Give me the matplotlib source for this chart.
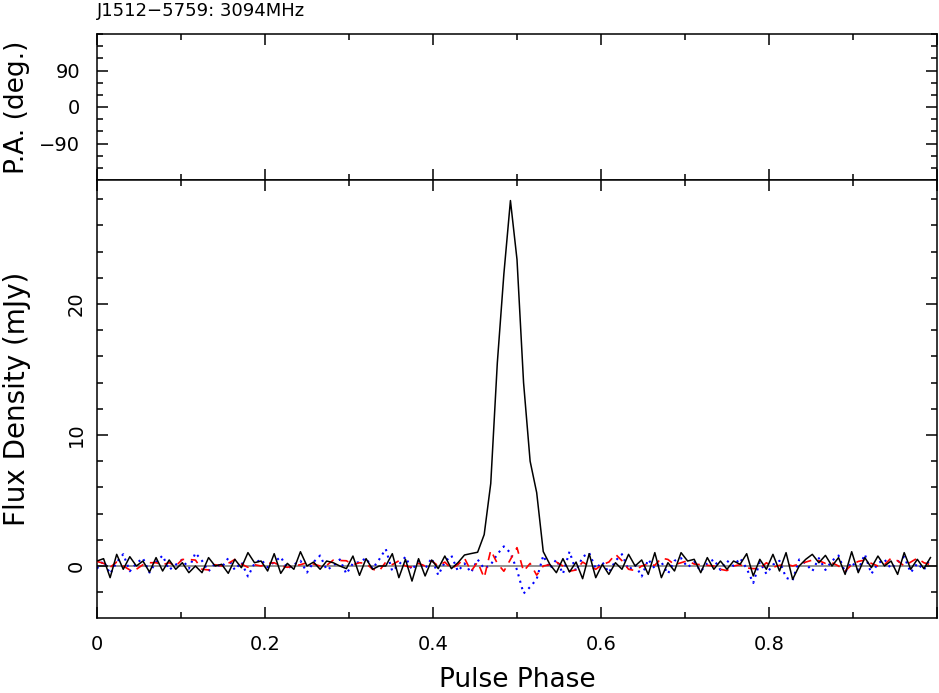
import numpy as np
import matplotlib
matplotlib.use("Agg")
import matplotlib.pyplot as plt
from matplotlib.ticker import MultipleLocator, FixedLocator, FuncFormatter

plt.rcParams['font.family'] = ['DejaVu Sans']

title = 'J1512\u22125759: 3094MHz'
nbin = 128

# total intensity (mJy), one value per bin
flux_I = [0.38, 0.56, -0.89, 0.89, -0.25, 0.71, 0.0, 0.38, -0.46, 0.64,
          -0.38, 0.46, -0.25, 0.25, -0.51, 0.0, -0.51, 0.64, 0.0, 0.13,
          -0.56, 0.51, -0.13, 1.02, 0.25, 0.38, -0.38, 0.94, -0.56, 0.2,
          -0.25, 1.09, 0.0, 0.3, -0.25, 0.38, 0.25, 0.0, -0.2, 0.76,
          -0.71, 0.56, -0.25, 0.0, 0.0, 0.94, -0.89, 0.51, -1.15, 0.56,
          -0.76, 0.46, -0.2, 0.76, -0.2, 0.25,
          0.84, 0.95, 1.05, 2.4, 6.3, 15.5, 22.3, 27.9, 23.4, 14.0, 8.0, 5.6, 1.1,
          0.13, -0.51, 0.56, -0.46, 0.3, -0.97, 0.94, -0.89, 0.13,
          -0.64, 0.25, -0.25, 0.89, 0.0, 0.46, -0.64, 1.02, -0.89, 0.25,
          -0.38, 1.02, 0.38, 0.51, -0.51, 0.64, -0.25, 0.38, -0.25, 0.38,
          0.13, 0.94, -0.76, 0.51, -0.25, 0.89, -0.38, 1.02, -1.02, 0.0,
          0.51, 0.89, 0.25, 0.81, 0.0, 0.64, -0.64, 1.09, -0.51, 0.64,
          -0.13, 0.76, 0.0, 0.38, -0.64, 1.02, -0.25, 0.51, -0.2, 0.64]

# linear polarisation
flux_L = [0.35, 0.2, -0.1, 0.3, 0.0, -0.3, -0.25, 0.1, 0.25, 0.25,
          0.1, 0.25, 0.0, 0.5, 0.5, 0.45, -0.25, -0.3, 0.1, 0.0,
          0.2, 0.5, 0.15, -0.1, 0.1, 0.0, 0.2, 0.25, 0.0, -0.1,
          0.0, 0.1, 0.25, 0.15, 0.0, 0.05, 0.45, 0.42, 0.4, 0.1,
          0.25, 0.2, -0.25, -0.38, 0.3, 0.1, 0.4, 0.0, -0.1, 0.2,
          0.0, 0.4, 0.0, 0.3, -0.2, 0.1,
          0.6, -0.4, 0.3, -0.9, 1.2, 0.2, -0.4, 0.5, 1.4, -0.4, 0.2, -0.7, 0.0,
          0.1, 0.3, 0.0, -0.4, -0.3, 0.3, 0.0, -0.25, 0.1, 0.3, 0.9,
          0.4, -0.25, -0.35, 0.0, 0.15, 0.05, 0.6, 0.5, 0.1, 0.25,
          0.4, 0.15, 0.1, 0.05, 0.0, -0.25, -0.35, 0.0, 0.1, -0.15,
          -0.2, -0.2, 0.25, -0.1, 0.05, 0.15, 0.0, 0.15, 0.3, 0.45,
          0.4, 0.2, 0.25, 0.0, -0.4, 0.1, 0.35, 0.45, 0.2, 0.0,
          0.1, 0.6, 0.4, 0.0, 0.3, 0.6, 0.25, 0.1]

# circular polarisation
flux_V = [-0.2, 0.4, -0.6, 0.3, 0.9, -0.4, 0.2, 0.6, -0.5, 0.3,
          0.8, -0.3, 0.1, 0.5, -0.2, 1.0, 0.4, -0.4, 0.2, -0.1,
          0.6, -0.3, 0.3, -0.8, 0.2, 0.5, -0.1, 0.3, 0.7, -0.2,
          0.1, 0.4, -0.5, 0.3, 0.8, -0.3, 0.0, 0.5, -0.6, 0.2,
          0.3, 0.6, -0.2, 0.5, 1.3, -0.4, 0.1, 0.7, -0.3, 0.4,
          -0.2, 0.6, -0.7, 0.3, 0.8, -0.4,
          0.2, -0.5, 0.5, -0.2, 0.1, 0.9, 1.5, 1.0, -0.3, -2.1, -1.6, -1.0, 0.8,
          -0.2, 0.5, -0.6, 1.1, -0.4, 0.7, 1.0, -0.2, 0.3, -0.5, 0.4,
          0.9, -0.3, 0.1, -0.8, 0.5, -0.2, 0.3, -0.6, 0.4, 0.6,
          -0.1, 0.3, -0.4, 0.2, 0.5, -0.3, 0.4, 0.0, 0.6, -0.2,
          -1.3, 0.3, -0.6, 0.1, 0.4, -0.9, -1.1, 0.5, 0.2, -0.4,
          0.6, -0.3, 0.4, 0.8, -0.5, 0.3, -0.3, 0.9, -0.6, 0.2,
          0.5, -0.2, 0.3, 0.7, -0.5, 0.2, -0.3, 0.6]

phase = np.arange(nbin) / nbin

W, H = 939, 693
fig = plt.figure(figsize=(W / 100, H / 100), dpi=100)

left = 97 / W
width = 840 / W
y_mid = 1 - 180 / H
ax_pa = fig.add_axes([left, y_mid, width, (180 - 34) / H])
ax_fl = fig.add_axes([left, 1 - 618 / H, width, (618 - 180) / H])

tick_font = 14
for ax in (ax_pa, ax_fl):
    for sp in ax.spines.values():
        sp.set_linewidth(1.1)
    ax.set_xlim(0, 1)
    ax.xaxis.set_major_locator(FixedLocator([0, 0.2, 0.4, 0.6, 0.8, 1.0]))
    ax.xaxis.set_minor_locator(MultipleLocator(0.1))
    ax.tick_params(which='both', direction='in', top=True, right=True,
                   width=1.1, labelsize=tick_font)
    ax.tick_params(which='major', length=8)
    ax.tick_params(which='minor', length=4)

# position angle panel (no points)
ax_pa.set_ylim(-180, 180)
ax_pa.yaxis.set_major_locator(FixedLocator([-90, 0, 90]))
ax_pa.yaxis.set_minor_locator(MultipleLocator(30))
ax_pa.tick_params(axis='x', labelbottom=False)
ax_pa.tick_params(axis='y', pad=12)

# flux panel
ax_fl.set_ylim(-3.97, 29.47)
ax_fl.yaxis.set_major_locator(MultipleLocator(10))
ax_fl.yaxis.set_minor_locator(MultipleLocator(2))
ax_fl.xaxis.set_major_formatter(
    FuncFormatter(lambda v, p: '' if v > 0.95 else ('0' if v == 0 else f'{v:.1f}')))
ax_fl.tick_params(axis='x', pad=12)
ax_fl.tick_params(axis='y', pad=8)
for lab in ax_fl.get_yticklabels():
    lab.set_rotation(90)
    lab.set_va('center')
    lab.set_ha('right')

ax_fl.axhline(0, color='#808080', lw=1.2, zorder=1)
ax_fl.plot(phase, flux_V, color='#0000ff', lw=1.5, ls=(0, (1.0, 2.2)), zorder=2)
ax_fl.plot(phase, flux_L, color='#ff0000', lw=1.2, ls=(0, (5, 4)), zorder=3)
ax_fl.plot(phase, flux_I, color='black', lw=1.1, zorder=4)

fig.text(left, 1 - 16 / H, title, fontsize=13, ha='left', va='baseline')
fig.text(17 / W, 1 - 107 / H, 'P.A. (deg.)', fontsize=19, rotation=90,
         ha='center', va='center')
fig.text(17 / W, 1 - 399 / H, 'Flux Density (mJy)', fontsize=20, rotation=90,
         ha='center', va='center')
fig.text(517 / W, 1 - 687 / H, 'Pulse Phase', fontsize=19, ha='center',
         va='baseline')

fig.savefig('out.png', dpi=100)
